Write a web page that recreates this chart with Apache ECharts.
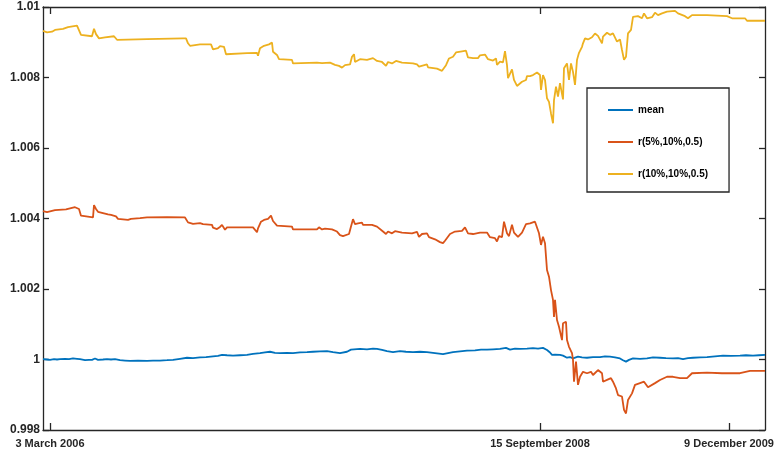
<!DOCTYPE html>
<html><head><meta charset="utf-8">
<script src="https://cdn.jsdelivr.net/npm/echarts@6/dist/echarts.min.js"></script>
<style>html,body{margin:0;padding:0;background:#fff}#c{width:777px;height:458px}</style>
</head><body><div id="c"></div>
<script>
const tickValues = [7, 497, 686];
const tickLabels = ['3 March 2006', '15 September 2008', '9 December 2009'];
const seriesNames = ['mean', 'r(5%,10%,0.5)', 'r(10%,10%,0.5)'];

const meanValues = [[0,1.00001],[4,1.00000],[7,0.99999],[11,1.00001],[14,1.00000],[17,1.00001],[22,1.00002],[26,1.00001],[30,1.00003],[34,1.00002],[37,1.00001],[42,0.99998],[46,0.99999],[49,0.99999],[52,1.00003],[55,0.99999],[60,1.00000],[64,1.00001],[68,1.00000],[72,1.00001],[77,0.99998],[82,0.99997],[87,0.99996],[95,0.99997],[104,0.99996],[110,0.99997],[117,0.99997],[124,0.99998],[130,0.99999],[137,1.00002],[144,1.00005],[150,1.00004],[157,1.00006],[163,1.00007],[170,1.00009],[175,1.00010],[179,1.00013],[184,1.00012],[190,1.00011],[197,1.00012],[204,1.00013],[210,1.00016],[217,1.00018],[222,1.00020],[227,1.00022],[232,1.00019],[237,1.00018],[244,1.00019],[250,1.00018],[257,1.00020],[264,1.00021],[270,1.00022],[277,1.00023],[284,1.00024],[290,1.00021],[297,1.00018],[304,1.00022],[308,1.00028],[310,1.00032],[317,1.00030],[324,1.00029],[330,1.00031],[334,1.0003],[339,1.00027],[344,1.00024],[350,1.00021],[357,1.00024],[363,1.00022],[370,1.00021],[377,1.00022],[384,1.00021],[392,1.00018],[400,1.00015],[405,1.00018],[410,1.00021],[417,1.00023],[424,1.00025],[432,1.00026],[438,1.00028],[444,1.00028],[450,1.00029],[457,1.0003],[463,1.00033],[467,1.00028],[472,1.00031],[477,1.0003],[484,1.00031],[490,1.00032],[495,1.00031],[500,1.00033],[504,1.00027],[507,1.00020],[509,1.00013],[512,1.00014],[514,1.00011],[517,1.00013],[520,1.00011],[524,1.00005],[527,1.00007],[530,1.00003],[535,1.00008],[539,1.00006],[544,1.00005],[550,1.00007],[557,1.00007],[562,1.00009],[567,1.00008],[572,1.00006],[577,1.00003],[580,0.99998],[583,0.99994],[586,0.99999],[590,1.00003],[597,1.00002],[604,1.00003],[610,1.00006],[617,1.00005],[623,1.00004],[630,1.00003],[635,1.00004],[640,1.00001],[645,1.00004],[650,1.00005],[657,1.00006],[664,1.00007],[672,1.00009],[680,1.00011],[688,1.00010],[697,1.00011],[703,1.00012],[710,1.00011],[716,1.00012],[722,1.00013]];

const r5Values = [[0,1.00421],[4,1.00418],[5,1.00423],[12,1.00424],[14,1.00426],[23,1.00426],[24,1.00431],[32,1.00432],[34,1.00429],[36,1.00427],[38,1.00408],[40,1.00403],[50,1.00403],[51,1.00438],[53,1.00427],[55,1.00419],[57,1.00414],[65,1.00412],[68,1.0041],[73,1.00406],[75,1.00399],[77,1.00396],[85,1.00396],[88,1.00399],[97,1.00401],[104,1.00403],[124,1.00404],[142,1.00403],[144,1.00401],[145,1.00389],[150,1.00385],[157,1.00387],[160,1.00384],[169,1.00382],[170,1.00374],[174,1.0037],[177,1.00376],[179,1.00382],[181,1.00378],[182,1.00368],[184,1.00375],[210,1.00375],[214,1.00361],[215,1.00372],[218,1.00391],[221,1.00396],[225,1.00399],[228,1.00408],[230,1.00393],[234,1.0038],[236,1.00377],[249,1.00377],[250,1.00369],[274,1.00369],[276,1.00375],[279,1.00369],[282,1.00371],[289,1.00369],[294,1.00363],[297,1.00353],[300,1.0035],[306,1.00356],[308,1.00377],[310,1.00398],[312,1.00384],[315,1.00386],[319,1.00388],[320,1.00382],[329,1.00382],[331,1.00386],[334,1.00377],[336,1.00373],[340,1.00363],[343,1.00356],[345,1.00363],[349,1.00358],[352,1.00364],[359,1.0036],[369,1.00358],[374,1.00362],[376,1.00348],[379,1.00356],[384,1.00358],[386,1.00347],[392,1.00341],[397,1.00333],[400,1.0033],[402,1.00337],[407,1.00356],[412,1.00363],[419,1.00365],[422,1.00375],[425,1.00358],[430,1.00356],[437,1.0036],[444,1.0036],[447,1.00347],[452,1.00344],[454,1.00335],[456,1.0035],[459,1.00347],[461,1.00391],[464,1.00358],[466,1.0035],[469,1.00382],[471,1.0036],[473,1.00365],[475,1.00348],[479,1.0036],[483,1.00384],[487,1.00386],[492,1.00391],[494,1.00386],[496,1.00358],[498,1.00325],[500,1.00348],[502,1.0033],[504,1.00254],[506,1.00235],[508,1.00197],[510,1.00169],[511,1.00121],[512,1.00169],[514,1.00112],[516,1.00093],[519,1.00055],[520,1.00103],[523,1.00107],[524,1.00055],[526,1.00036],[529,1.00018],[530,0.99999],[531,0.99937],[533,0.99994],[535,0.99928],[537,0.99951],[540,0.99965],[544,0.99961],[548,0.99965],[550,0.99956],[555,0.9997],[559,0.99961],[560,0.99937],[564,0.99942],[568,0.99947],[570,0.99937],[573,0.99918],[575,0.99899],[579,0.99895],[581,0.99857],[583,0.99847],[585,0.99885],[589,0.99904],[592,0.99928],[597,0.99933],[601,0.99937],[605,0.99921],[612,0.99933],[617,0.99942],[624,0.99951],[630,0.99951],[637,0.99947],[644,0.99947],[649,0.99961],[664,0.99963],[679,0.99961],[697,0.99961],[707,0.99968],[722,0.99968]];

const r10Values = [[0,1.00932],[4,1.00928],[9,1.0093],[12,1.00935],[20,1.00938],[25,1.00943],[34,1.00947],[36,1.00944],[38,1.00921],[49,1.00917],[51,1.00938],[53,1.00923],[56,1.00911],[62,1.00914],[71,1.00917],[74,1.00907],[104,1.00909],[140,1.00911],[143,1.00911],[145,1.00897],[147,1.0089],[157,1.00894],[168,1.00894],[170,1.0088],[175,1.00883],[177,1.00889],[181,1.00887],[183,1.00866],[204,1.00869],[214,1.0087],[215,1.00862],[217,1.00883],[221,1.0089],[226,1.00894],[229,1.00899],[230,1.00873],[234,1.00864],[236,1.00852],[249,1.0085],[250,1.0084],[274,1.00842],[276,1.00846],[279,1.00841],[287,1.00842],[292,1.00836],[296,1.00833],[299,1.00828],[302,1.00835],[307,1.00837],[309,1.00859],[311,1.00866],[312,1.00844],[314,1.00842],[317,1.00852],[324,1.0085],[330,1.00855],[334,1.00847],[339,1.00844],[343,1.00833],[345,1.00844],[349,1.0084],[351,1.00836],[353,1.00847],[359,1.00842],[370,1.0084],[374,1.00837],[376,1.00831],[378,1.00836],[384,1.00837],[385,1.00829],[394,1.00825],[399,1.00819],[401,1.00816],[403,1.00835],[406,1.00854],[410,1.00859],[413,1.00871],[419,1.00874],[423,1.00876],[425,1.00857],[430,1.00855],[435,1.00855],[437,1.00863],[442,1.00865],[445,1.00852],[450,1.00848],[453,1.00854],[454,1.00836],[457,1.00845],[460,1.00843],[462,1.00875],[464,1.00835],[465,1.00798],[469,1.00823],[471,1.00793],[473,1.00795],[474,1.00776],[476,1.00772],[479,1.00788],[483,1.00793],[484,1.00804],[487,1.00804],[490,1.00807],[494,1.00814],[497,1.00807],[498,1.00765],[500,1.00807],[502,1.00793],[504,1.00741],[506,1.00731],[508,1.00698],[510,1.0067],[511,1.00736],[513,1.00774],[515,1.00746],[517,1.00784],[520,1.00738],[521,1.00826],[524,1.0084],[526,1.00793],[528,1.0084],[530,1.00816],[532,1.00779],[534,1.0085],[536,1.0087],[539,1.00887],[540,1.00897],[542,1.00911],[545,1.00908],[549,1.00914],[552,1.00925],[555,1.00918],[559,1.00897],[560,1.00916],[564,1.00927],[567,1.00921],[570,1.00925],[574,1.00902],[577,1.00908],[579,1.00878],[581,1.0085],[583,1.00859],[585,1.00925],[588,1.00935],[590,1.00972],[595,1.00974],[599,1.00968],[601,1.00982],[604,1.00968],[609,1.00971],[612,1.00984],[615,1.00977],[619,1.00982],[624,1.00987],[632,1.00989],[635,1.00982],[642,1.00974],[645,1.00968],[649,1.00977],[664,1.00977],[684,1.00974],[689,1.00968],[702,1.00968],[704,1.00961],[722,1.00961]];

const colors = ['#0072BD', '#D95319', '#EDB120'];
const axisColor = '#262626';
const font = '"Liberation Sans", Arial, Helvetica, sans-serif';

const labelMap = {};
tickValues.forEach((v, i) => { labelMap[v] = tickLabels[i]; });

function xAxisCfg(pos, showLabels) {
  return {
    type: 'value', min: 0, max: 722, position: pos,
    axisLine: { show: true, onZero: false, lineStyle: { color: axisColor, width: 1.3 } },
    axisTick: { show: true, inside: true, length: 7, customValues: tickValues, lineStyle: { color: axisColor, width: 1.3 } },
    axisLabel: { show: showLabels, customValues: tickValues, formatter: v => labelMap[v] || '', color: axisColor, fontSize: 11, fontWeight: 'bold', fontFamily: font, margin: 8 },
    splitLine: { show: false }
  };
}
function yAxisCfg(pos, showLabels) {
  return {
    type: 'value', min: 0.998, max: 1.01, interval: 0.002, position: pos,
    axisLine: { show: true, onZero: false, lineStyle: { color: axisColor, width: 1.3 } },
    axisTick: { show: true, inside: true, length: 6, lineStyle: { color: axisColor, width: 1.3 } },
    axisLabel: { show: showLabels, formatter: v => String(parseFloat(v.toFixed(3))), color: axisColor, fontSize: 12, fontWeight: 'bold', fontFamily: font, margin: 3 },
    splitLine: { show: false }
  };
}

const allData = [meanValues, r5Values, r10Values];
const chart = echarts.init(document.getElementById('c'), null, { renderer: 'canvas' });
chart.setOption({
  animation: false,
  backgroundColor: '#fff',
  grid: { left: 43, right: 12, top: 7, bottom: 28 },
  xAxis: [xAxisCfg('bottom', true), xAxisCfg('top', false)],
  yAxis: [yAxisCfg('left', true), yAxisCfg('right', false)],
  legend: {
    data: seriesNames.map((n, i) => ({ name: n, icon: 'rect', itemStyle: { color: colors[i] } })),
    orient: 'vertical', left: 587, top: 88,
    padding: [16, 21, 12, 21], itemWidth: 25, itemHeight: 2, itemGap: 20,
    borderColor: axisColor, borderWidth: 1.3, backgroundColor: '#fff',
    textStyle: { fontSize: 10, fontWeight: 'bold', color: '#000', fontFamily: font, lineHeight: 12 }
  },
  series: seriesNames.map((name, i) => ({
    name, type: 'line', data: allData[i], symbol: 'none', showSymbol: false,
    xAxisIndex: 0, yAxisIndex: 0,
    lineStyle: { color: colors[i], width: 1.8 }, itemStyle: { color: colors[i] }
  }))
});
</script></body></html>
